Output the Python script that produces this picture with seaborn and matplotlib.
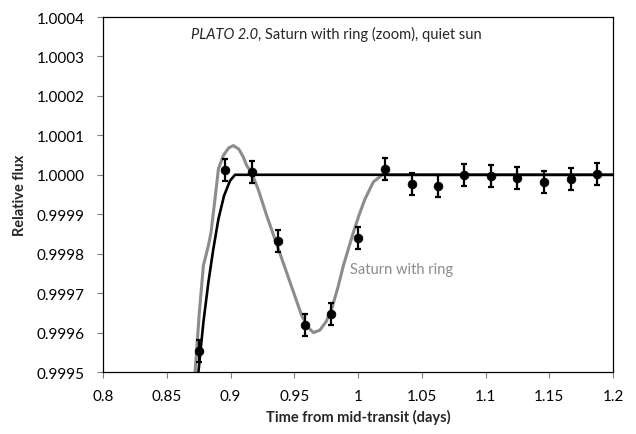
import numpy as np
import pandas as pd
import seaborn as sns
import matplotlib.pyplot as plt
from matplotlib.ticker import FormatStrFormatter, MultipleLocator

# Observed data points (time in days, relative flux, error)
obs_time = [0.875, 0.896, 0.917, 0.9375, 0.958, 0.979, 1.000, 1.021,
            1.042, 1.0625, 1.083, 1.104, 1.125, 1.146, 1.167, 1.1875]
obs_flux = [0.999554, 1.000012, 1.000008, 0.999831, 0.999620, 0.999648,
            0.999840, 1.000015, 0.999977, 0.999972, 1.000000, 0.999996,
            0.999991, 0.999982, 0.999990, 1.000003]
obs_err = [0.000028] * 16

# Model without ring (black)
plain_time = [0.8738, 0.8748, 0.8787, 0.8826, 0.8865, 0.8905, 0.8949,
              0.8996, 0.9035, 1.2]
plain_flux = [0.99945, 0.99950, 0.999626, 0.999727, 0.999812, 0.999888,
              0.999947, 0.999985, 1.0, 1.0]

# Model with ring (grey)
ring_time = [0.8712, 0.8722, 0.8755, 0.8787, 0.8826, 0.8847, 0.8878,
             0.8905, 0.8944, 0.8985, 0.9022, 0.9065, 0.9100, 0.9127,
             0.9166, 0.9220, 0.9284, 0.9375, 0.9467, 0.9558, 0.9610,
             0.9650, 0.9700, 0.9750, 0.9793, 0.9840, 0.9885, 0.9963,
             1.0010, 1.0055, 1.0120, 1.0198, 1.0250, 1.2]
ring_flux = [0.99944, 0.99950, 0.99965, 0.99977, 0.99982, 0.999854,
             0.999939, 1.000015, 1.000049, 1.000068, 1.000074, 1.000065,
             1.000045, 1.000023, 1.000005, 0.999960, 0.999896, 0.999812,
             0.999727, 0.999643, 0.999612, 0.999600, 0.999606, 0.999628,
             0.999660, 0.999712, 0.999770, 0.999854, 0.999900, 0.999939,
             0.999982, 1.000002, 1.0, 1.0]

df_obs = pd.DataFrame({'time': obs_time, 'flux': obs_flux, 'err': obs_err})
df_plain = pd.DataFrame({'time': plain_time, 'flux': plain_flux})
df_ring = pd.DataFrame({'time': ring_time, 'flux': ring_flux})

sns.set_theme(style='white')
plt.rcParams['font.family'] = ['Lato', 'DejaVu Sans']

fig, ax = plt.subplots(figsize=(6.36, 4.35), dpi=100)
fig.subplots_adjust(left=0.162, right=0.964, bottom=0.1425, top=0.9586)

sns.lineplot(data=df_ring, x='time', y='flux', sort=False, estimator=None,
             color='#8c8c8c', lw=2.2, ax=ax, zorder=2)
sns.lineplot(data=df_plain, x='time', y='flux', sort=False, estimator=None,
             color='black', lw=1.9, ax=ax, zorder=3)
ax.errorbar(df_obs['time'], df_obs['flux'], yerr=df_obs['err'], fmt='none',
            ecolor='black', elinewidth=1.6, capsize=2.5, capthick=1.6, zorder=4)
sns.scatterplot(data=df_obs, x='time', y='flux', color='black', s=40,
                edgecolor='black', ax=ax, zorder=5)

ax.set_xlim(0.8, 1.2)
ax.set_ylim(0.9995, 1.0004)
ax.xaxis.set_major_locator(MultipleLocator(0.05))
ax.yaxis.set_major_locator(MultipleLocator(0.0001))
ax.xaxis.set_major_formatter(FormatStrFormatter('%g'))
ax.yaxis.set_major_formatter(FormatStrFormatter('%.4f'))

ax.tick_params(axis='both', which='major', direction='out', length=4.5,
               width=0.8, color='#7f7f7f', labelsize=11, labelcolor='black')
ax.tick_params(axis='y', pad=9, left=True)
ax.tick_params(axis='x', pad=8, bottom=True)
for side in ['left', 'bottom', 'top', 'right']:
    ax.spines[side].set_color('black')
    ax.spines[side].set_linewidth(0.9)

ax.set_xlabel('Time from mid-transit (days)', fontsize=10.5, fontweight='bold',
              labelpad=4)
ax.set_ylabel('Relative flux', fontsize=10.5, fontweight='bold', labelpad=7)

ax.text(0.9937, 0.99976, 'Saturn with ring', color='#8c8c8c', fontsize=10.5,
        ha='left', va='center')

# Title inside plot: italic instrument name + normal remainder
t1 = ax.text(0, 0.952, 'PLATO 2.0', style='italic', fontsize=10.5,
             transform=ax.transAxes, ha='left', va='center')
t2 = ax.annotate(', Saturn with ring (zoom), quiet sun', xy=(1, 0),
                 xycoords=t1, va='bottom', ha='left', fontsize=10.5)
fig.canvas.draw()
b1 = t1.get_window_extent()
b2 = t2.get_window_extent()
width = (b2.x1 - b1.x0) / ax.bbox.width
t1.set_x(0.458 - width / 2)

fig.savefig('out.png', dpi=100)
